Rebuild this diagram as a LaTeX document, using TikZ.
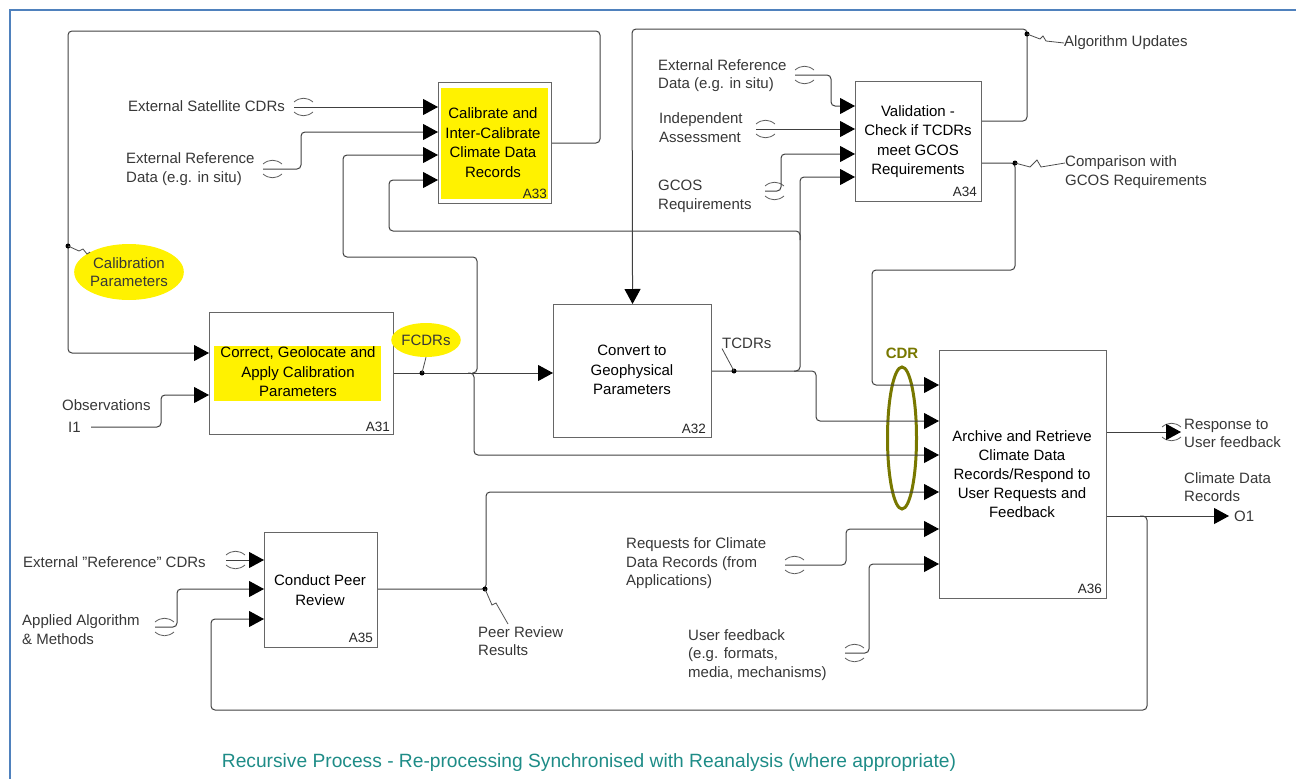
\documentclass[tikz,border=0pt]{standalone}
\usepackage{fontspec}
\setmainfont{Liberation Sans}
\usetikzlibrary{arrows.meta,calc,shapes.geometric}
\definecolor{framec}{RGB}{79,129,189}
\definecolor{cdrolive}{RGB}{120,120,0}
\definecolor{teal2}{RGB}{30,140,135}
\definecolor{lblc}{RGB}{55,55,55}
\begin{document}
\begin{tikzpicture}[x=1pt,y=-1pt,
  box/.style={draw=black!60, line width=1.1pt, fill=white, anchor=north west, inner sep=0pt},
  boxtext/.style={font=\fontsize{15}{19.5}\selectfont, align=center, inner sep=0pt, text=black},
  boxid/.style={font=\fontsize{13.5}{16}\selectfont, anchor=east, inner sep=0pt, text=black!85},
  lbl/.style={font=\fontsize{15}{18.5}\selectfont, align=left, anchor=west, inner sep=0pt, text=lblc},
  conn/.style={draw=black!75, line width=1pt, rounded corners=4pt},
  arr/.style={conn, -{Triangle[length=15pt,width=16pt,color=black,fill=black]}},
  dotn/.style={circle, fill=black, inner sep=0pt, minimum size=5pt},
  tun/.style={draw=black!65, line width=0.8pt},
  squig/.style={draw=black!70, line width=0.8pt},
  pics/tunnel/.style={code={
    \draw[tun] (0,-5) .. controls (6,-10) and (13,-10) .. (19,-5);
    \draw[tun] (0,5) .. controls (6,10) and (13,10) .. (19,5);}}
]
\useasboundingbox (0,0) rectangle (1296,779);
% frame
\draw[framec, line width=2.5pt] (1296,10) -- (10,10) -- (10,779);

% ---------- boxes ----------
\node[box, minimum width=113, minimum height=121] (a33) at (438,82) {};
\fill[yellow] (441,88) rectangle (548,199);
\node[boxtext] (a33t) at (493,142.5) {Calibrate and\\Inter-Calibrate\\Climate Data\\Records};
\node[boxid] (a33id) at ($(a33.south east)+(-5,-10)$) {A33};

\node[box, minimum width=184, minimum height=122] (a31) at (209,312) {};
\fill[yellow] (214,346) rectangle (381,401);
\node[boxtext] (a31t) at (298,372) {Correct, Geolocate and\\Apply Calibration\\Parameters};
\node[boxid] (a31id) at ($(a31.south east)+(-4,-8)$) {A31};

\node[box, minimum width=158, minimum height=133] (a32) at (553,304) {};
\node[boxtext] (a32t) at (632,370) {Convert to\\Geophysical\\Parameters};
\node[boxid] (a32id) at ($(a32.south east)+(-6,-9)$) {A32};

\node[box, minimum width=126, minimum height=120] (a34) at (855,81) {};
\node[boxtext] (a34t) at (918,141.5) {Validation -\\Check if TCDRs\\meet GCOS\\Requirements};
\node[boxid] (a34id) at ($(a34.south east)+(-5,-10)$) {A34};

\node[box, minimum width=113, minimum height=115] (a35) at (264,532) {};
\node[boxtext] (a35t) at (320,590) {Conduct Peer\\Review};
\node[boxid] (a35id) at ($(a35.south east)+(-5,-10)$) {A35};

\node[box, minimum width=167, minimum height=248] (a36) at (939,350) {};
\node[boxtext, font=\fontsize{15}{19}\selectfont] (a36t) at (1022,474) {Archive and Retrieve\\Climate Data\\Records/Respond to\\User Requests and\\Feedback};
\node[boxid] (a36id) at ($(a36.south east)+(-5,-10)$) {A36};

% ---------- ellipses ----------
\node[ellipse, fill=yellow, minimum width=100, minimum height=56, inner sep=0pt,
  font=\fontsize{15}{18.5}\selectfont, align=center, text=lblc] (calib) at (129,272) {Calibration\\Parameters};
\node[ellipse, fill=yellow, minimum width=66, minimum height=34, inner sep=0pt,
  font=\fontsize{15}{18.5}\selectfont, text=lblc] (fcdr) at (426,340) {FCDRs};
\node[ellipse, draw=cdrolive, line width=3pt, minimum width=29, minimum height=142] (cdrell) at (902,438) {};
\node[font=\bfseries\fontsize{15}{18}\selectfont, text=cdrolive, inner sep=0pt] (cdrlbl) at (902,353) {CDR};

% ---------- labels ----------
\node[lbl] (lsat) at (128,106) {External Satellite CDRs};
\node[lbl] (lref1) at (126,169) {External Reference\\Data (e.g. in situ)};
\node[lbl] (lobs) at (62,405) {Observations};
\node[lbl] (li1) at (68,427) {I1};
\node[lbl] (lref2) at (658,75.5) {External Reference\\Data (e.g. in situ)};
\node[lbl] (lind) at (659,127.5) {Independent\\Assessment};
\node[lbl] (lgcos) at (658,196.5) {GCOS\\Requirements};
\node[lbl] (lalg) at (1064,43) {Algorithm Updates};
\node[lbl] (lcomp) at (1065,172) {Comparison with\\GCOS Requirements};
\node[lbl] (ltcdr) at (722,343) {TCDRs};
\node[lbl] (lresp) at (1184,433.5) {Response to\\User feedback};
\node[lbl] (lcdrs) at (1184,487) {Climate Data\\Records};
\node[lbl] (lo1) at (1234,516) {O1};
\node[lbl] (lextref) at (23,562) {External "Reference" CDRs};
\node[lbl] (lapp) at (22,629.5) {Applied Algorithm\\\& Methods};
\node[lbl] (lpeer) at (478,641) {Peer Review\\Results};
\node[lbl] (lreq) at (626,563.5) {Requests for Climate\\Data Records (from\\Applications)};
\node[lbl] (luser) at (688,655) {User feedback\\(e.g. formats,\\media, mechanisms)};
\node[font=\fontsize{19.2}{22}\selectfont, text=teal2, inner sep=0pt] (ltitle) at (589,763)
  {Recursive Process - Re-processing Synchronised with Reanalysis (where appropriate)};

% ---------- free ends ----------
\coordinate (tsat) at (294,107);
\coordinate (tref1) at (263,169);
\coordinate (tobs) at (91,427);
\coordinate (tref2) at (795,75);
\coordinate (tind) at (756,129);
\coordinate (tgcos) at (765,191);
\coordinate (textref) at (226,560);
\coordinate (tapp) at (155,627);
\coordinate (treq) at (785,565);
\coordinate (tuser) at (845,653);
\coordinate (resp) at (1181,432);
\coordinate (o1) at (1229,516);

% tunnels
\pic at (tsat) {tunnel};
\pic at (tref1) {tunnel};
\pic at (tref2) {tunnel};
\pic at (tind) {tunnel};
\pic at (tgcos) {tunnel};
\pic at (textref) {tunnel};
\pic at (tapp) {tunnel};
\pic at (treq) {tunnel};
\pic at (tuser) {tunnel};
\pic at (1162,432) {tunnel};

% ---------- connectors ----------
% A33 inputs
\draw[arr] (tsat) -- (tsat -| a33.west);
\draw[arr] (tref1) -- (301,169) -- (301,132) -- (a33.west |- 0,132);
\draw[arr] (472,373) -- (477,373) -- (477,257) -- (343,257) -- (343,155) -- (a33.west |- 0,155);
\draw[arr] (800,240) -- (800,231) -- (389,231) -- (389,180) -- (a33.west |- 0,180);
% calibration loop
\draw[arr] (a33.east |- 0,143) -- (600,143) -- (600,31) -- (68,31) -- (68,353) -- (a31.west |- 0,353);
% observations
\draw[arr] (tobs) -- (161,427) -- (161,395) -- (a31.west |- 0,395);
% FCDR
\draw[arr] (a31.east |- 0,373) -- (a32.west |- 0,373);
\draw[arr] (468,373) -- (474,373) -- (474,455) -- (a36.west |- 0,455);
% TCDR
\draw[arr] (a32.east |- 0,371) -- (800,371) -- (800,177) -- (a34.west |- 0,177);
\draw[arr] (794,371) -- (816,371) -- (816,421) -- (a36.west |- 0,421);
% algorithm updates
\draw[arr] (a34.east |- 0,121) -- (1027,121) -- (1027,29) -- (632,29) -- (a32.north);
% A34 inputs
\draw[arr] (tref2) -- (831,75) -- (831,106) -- (a34.west |- 0,106);
\draw[arr] (tind) -- (tind -| a34.west);
\draw[arr] (tgcos) -- (781,191) -- (781,154) -- (a34.west |- 0,154);
% comparison
\draw[arr] (a34.east |- 0,163) -- (1015,163) -- (1015,270) -- (872,270) -- (872,385) -- (a36.west |- 0,385);
% peer review
\draw[arr] (a35.east |- 0,589) -- (486,589) -- (486,492) -- (a36.west |- 0,492);
% requests and user feedback
\draw[arr] (treq) -- (846,565) -- (846,529) -- (a36.west |- 0,529);
\draw[arr] (tuser) -- (869,653) -- (869,564) -- (a36.west |- 0,564);
% outputs
\draw[arr] (a36.east |- 0,432) -- (resp);
\draw[arr] (a36.east |- 0,516) -- (o1);
\draw[arr] (1140,516) -- (1147,516) -- (1147,710) -- (211,710) -- (211,619) -- (a35.west |- 0,619);
% A35 inputs
\draw[arr] (textref) -- (textref -| a35.west);
\draw[arr] (tapp) -- (177,627) -- (177,589) -- (a35.west |- 0,589);

% ---------- dots and squiggles ----------
\node[dotn] (dcal) at (68,246) {};
\draw[squig] (dcal.center) -- (79,251) -- (83,249) -- (87,254) -- (calib.north west);
\node[dotn] (dfcdr) at (422,373) {};
\draw[squig] (dfcdr.center) -- (fcdr.south);
\node[dotn] (dtcdr) at (734,371) {};
\draw[squig] (dtcdr.center) -- (ltcdr.south west);
\node[dotn] (dalg) at (1027,34) {};
\draw[squig] (dalg.center) -- (1040,39) -- (1043,36) -- (1046,41) -- (lalg.west);
\node[dotn] (dcomp) at (1015,163) {};
\draw[squig] (dcomp.center) -- (1030,167) -- (1037,160) -- (1041,167) -- (lcomp.west |- 0,163);
\coordinate (peerend) at (508,624);
\node[dotn] (dpeer) at (485,589) {};
\draw[squig] (dpeer.center) -- (492,605) -- (496,603) -- (peerend);
\end{tikzpicture}
\end{document}
